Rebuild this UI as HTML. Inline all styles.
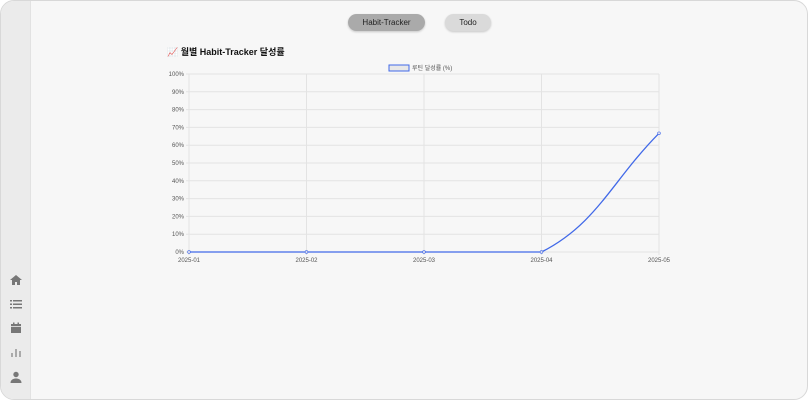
<!DOCTYPE html>
<html><head><meta charset="utf-8"><style>
body{margin:0;width:808px;height:400px;overflow:hidden;background:#fff;font-family:"Liberation Sans","Noto Sans CJK KR",sans-serif}
#frame{position:absolute;left:0;top:0;width:806px;height:398px;border:1px solid #d8d8d8;border-radius:14px;overflow:hidden;background:#f7f7f7}
#side{position:absolute;left:0;top:0;width:29px;height:100%;background:#ebebeb;border-right:1px solid #e2e2e2}
.ic{position:absolute;left:8px;width:14px;height:14px}
.btn{position:absolute;top:13px;height:17px;border-radius:9px;font-size:8px;line-height:17px;text-align:center;box-shadow:0 1px 2px rgba(0,0,0,.2)}
</style></head><body>
<div id="frame">
<div id="side">
<svg class="ic" style="top:272px" viewBox="0 0 14 14"><path d="M7 2L1 7h2v5h3V9h2v3h3V7h2z" fill="#777"/></svg>
<svg class="ic" style="top:296px" viewBox="0 0 14 14"><g fill="#777"><rect x="1" y="3" width="2" height="1.5"/><rect x="4" y="3" width="9" height="1.5"/><rect x="1" y="6.5" width="2" height="1.5"/><rect x="4" y="6.5" width="9" height="1.5"/><rect x="1" y="10" width="2" height="1.5"/><rect x="4" y="10" width="9" height="1.5"/></g></svg>
<svg class="ic" style="top:320px" viewBox="0 0 14 14"><g fill="#777"><rect x="2" y="3" width="10" height="9"/><rect x="4" y="1.5" width="1.5" height="3"/><rect x="8.5" y="1.5" width="1.5" height="3"/></g><rect x="2" y="5" width="10" height="0.8" fill="#ebebeb"/></svg>
<svg class="ic" style="top:344px" viewBox="0 0 14 14"><g fill="#aaa"><rect x="2" y="8" width="2" height="4"/><rect x="6" y="4" width="2" height="8"/><rect x="10" y="6" width="2" height="6"/></g></svg>
<svg class="ic" style="top:369px" viewBox="0 0 14 14"><g fill="#777"><circle cx="7" cy="4.5" r="2.7"/><path d="M1.5 13c0-3 2.5-4.5 5.5-4.5s5.5 1.5 5.5 4.5z"/></g></svg>
</div>
<div class="btn" style="left:347px;width:77px;background:#aaa;color:#222">Habit-Tracker</div>
<div class="btn" style="left:444px;width:46px;background:#dadada;color:#222">Todo</div>
<div style="position:absolute;left:166px;top:44px;font-size:9px;font-weight:bold;color:#111">📈 월별 Habit-Tracker 달성률</div>
<svg id="chart" style="position:absolute;left:0;top:0" width="808" height="400"></svg>
</div>
<script>
const categories=["2025-01","2025-02","2025-03","2025-04","2025-05"];
const values=[0,0,0,0,66.7];
const yTicks=[0,10,20,30,40,50,60,70,80,90,100];
const seriesLabel="루틴 달성률 (%)";
const NS="http://www.w3.org/2000/svg",svg=document.getElementById("chart");
const X0=188,X1=658,Y0=251,Y1=73;
const xs=i=>X0+(X1-X0)*i/(categories.length-1);
const ys=v=>Y0-(Y0-Y1)*v/100;
function mk(t,a,p){const e=document.createElementNS(NS,t);for(const k in a)e.setAttribute(k,a[k]);(p||svg).appendChild(e);return e;}
yTicks.forEach(t=>{
 const g=mk("line",{x1:X0-3,x2:X1,y1:ys(t),y2:ys(t),stroke:"#e3e3e3","stroke-width":1});
 
 
 const l=mk("text",{x:X0-5,y:ys(t)+2,"font-size":6,"text-anchor":"end",fill:"#555"});l.textContent=t+"%";
 
 
});
categories.forEach((c,i)=>{
 const g=mk("line",{x1:xs(i),x2:xs(i),y1:Y1,y2:Y0+3,stroke:"#e3e3e3","stroke-width":1});
 
 
 const l=mk("text",{x:xs(i),y:Y0+10,"font-size":6,"text-anchor":"middle",fill:"#555"});l.textContent=c;
 
 
});
// Chart.js-style spline, tension 0.4, clamped to area
const P=values.map((v,i)=>[xs(i),ys(v)]),n=P.length,T=0.4;
const cp=P.map((p,i)=>{const a=P[Math.max(i-1,0)],b=P[Math.min(i+1,n-1)];
 const d01=Math.hypot(p[0]-a[0],p[1]-a[1]),d12=Math.hypot(b[0]-p[0],b[1]-p[1]);
 let fa=d01/(d01+d12),fb=d12/(d01+d12);if(isNaN(fa))fa=0;if(isNaN(fb))fb=0;fa*=T;fb*=T;
 const cl=y=>Math.min(Y0,Math.max(Y1,y));
 return{px:p[0]-fa*(b[0]-a[0]),py:cl(p[1]-fa*(b[1]-a[1])),nx:p[0]+fb*(b[0]-a[0]),ny:cl(p[1]+fb*(b[1]-a[1]))};});
let path="M"+P[0][0]+","+P[0][1];
for(let i=0;i<n-1;i++)path+=" C"+cp[i].nx+","+cp[i].ny+" "+cp[i+1].px+","+cp[i+1].py+" "+P[i+1][0]+","+P[i+1][1];
const ln=mk("path",{d:path,fill:"none",stroke:"#4169e8","stroke-width":1.3});


P.forEach(p=>{const c=mk("circle",{cx:p[0],cy:p[1],r:1.4,fill:"#dde",stroke:"#4169e8","stroke-width":0.6});
 
 });
const lb=mk("rect",{x:388,y:64,width:20,height:6,fill:"#e8e8e8",stroke:"#4169e8","stroke-width":1});


const lt=mk("text",{x:411,y:69,"font-size":6,fill:"#555"});lt.textContent=seriesLabel;


</script>
</body></html>
